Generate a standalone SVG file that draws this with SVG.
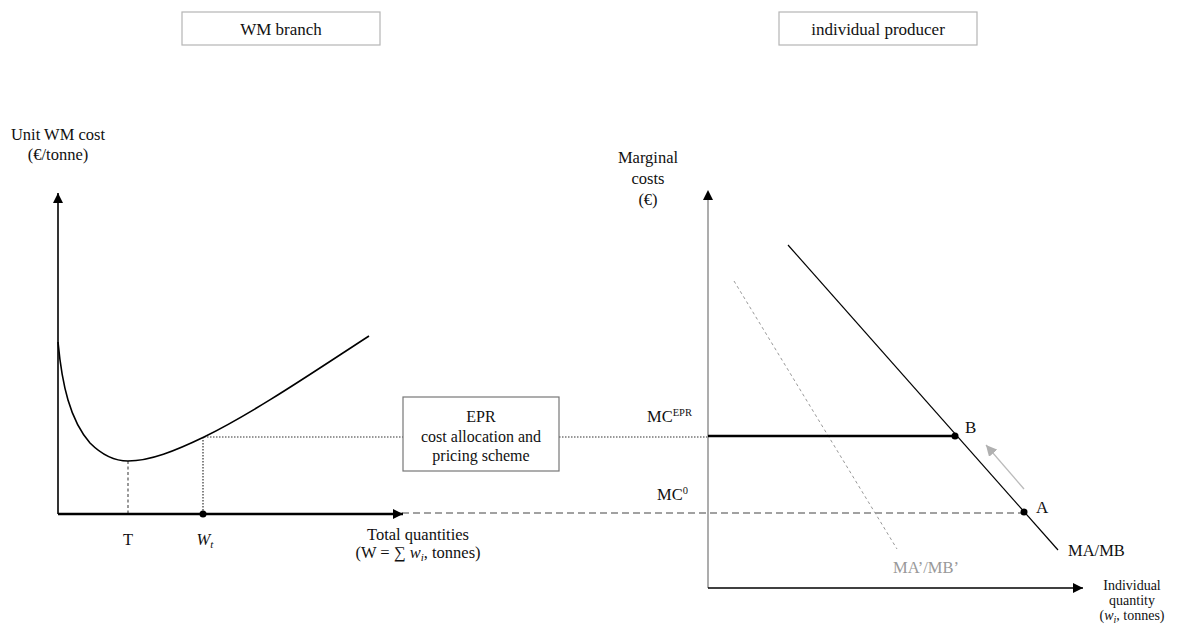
<svg xmlns="http://www.w3.org/2000/svg" width="1180" height="627" viewBox="0 0 1180 627" font-family="'Liberation Serif','Times New Roman',serif">
<defs>
<marker id="ah" viewBox="0 0 10 10" refX="10" refY="5" markerWidth="10" markerHeight="10" markerUnits="userSpaceOnUse" orient="auto"><path d="M0,0 L10,5 L0,10 z" fill="#000"/></marker>
<marker id="ahg" viewBox="0 0 10 10" refX="10" refY="5" markerWidth="11" markerHeight="11" markerUnits="userSpaceOnUse" orient="auto"><path d="M0,0 L10,5 L0,10 z" fill="#b0b0b0"/></marker>
<style>
text{font-family:'Liberation Serif','Times New Roman',serif;fill:#111}
.lbl{font-size:16.5px}
.box{fill:#fff;stroke:#b5b5b5;stroke-width:1.2}
.dot{stroke:#333;stroke-width:1.2;stroke-dasharray:1.5 1.5;fill:none}
.dash{stroke:#444;stroke-width:1.2;stroke-dasharray:7 4;fill:none}
</style>
</defs>
<g id="title-wm">
<rect class="box" x="182" y="12" width="198" height="33"/>
<text x="281" y="35" font-size="17" text-anchor="middle">WM branch</text>
</g>
<g id="title-producer">
<rect class="box" x="779" y="12" width="198" height="33"/>
<text x="878" y="35" font-size="17" text-anchor="middle">individual producer</text>
</g>
<g id="connectors">
<line class="dot" x1="204" y1="437" x2="403" y2="437"/>
<line class="dot" x1="559" y1="437" x2="708" y2="437"/>
<line class="dot" x1="203" y1="437" x2="203" y2="513"/>
<line x1="128" y1="461" x2="128" y2="513" stroke="#555" stroke-width="1.2" stroke-dasharray="3 2.5"/>
<line class="dash" x1="402" y1="513" x2="1024" y2="513"/>
</g>
<g id="left-chart">
<line x1="58" y1="514" x2="58" y2="193" stroke="#000" stroke-width="1.6" marker-end="url(#ah)"/>
<line x1="58" y1="514" x2="403" y2="514" stroke="#000" stroke-width="2.4" marker-end="url(#ah)"/>
<path d="M58,342 C62,385 70,420 90,443 C103,456 115,461 128,461 C150,461 175,451 204,437 C255,412 315,371 369,336" fill="none" stroke="#000" stroke-width="1.6"/>
<circle cx="203" cy="514" r="3.5" fill="#000"/>
<text class="lbl" x="58" y="140" text-anchor="middle">Unit WM cost</text>
<text class="lbl" x="58" y="160" text-anchor="middle">(€/tonne)</text>
<text class="lbl" x="128" y="545" text-anchor="middle">T</text>
<text class="lbl" x="205" y="545" text-anchor="middle"><tspan font-style="italic">W</tspan><tspan font-style="italic" font-size="11" dy="3">t</tspan></text>
<text class="lbl" x="418" y="540" text-anchor="middle">Total quantities</text>
<text class="lbl" x="418" y="558" text-anchor="middle">(W = ∑ <tspan font-style="italic">w</tspan><tspan font-style="italic" font-size="11" dy="3">i</tspan><tspan dy="-3">, tonnes)</tspan></text>
</g>
<g id="epr-box">
<rect x="403" y="397" width="156" height="74" fill="#fff" stroke="#777" stroke-width="1.2"/>
<text x="481" y="422" font-size="16" text-anchor="middle">EPR</text>
<text x="481" y="442" font-size="16" text-anchor="middle">cost allocation and</text>
<text x="481" y="461" font-size="16" text-anchor="middle">pricing scheme</text>
</g>
<g id="right-chart">
<line x1="708" y1="588" x2="708" y2="200" stroke="#999" stroke-width="1.6"/>
<path d="M703,200 L708,190 L713,200 z" fill="#000"/>
<line x1="708" y1="588" x2="1083" y2="588" stroke="#000" stroke-width="1.4" marker-end="url(#ah)"/>
<line x1="788" y1="245" x2="1058" y2="550" stroke="#000" stroke-width="1.2"/>
<line x1="734" y1="281" x2="897" y2="549" stroke="#999" stroke-width="1" stroke-dasharray="3 3"/>
<line x1="708" y1="436" x2="955" y2="436" stroke="#000" stroke-width="2.4"/>
<line x1="1024" y1="489" x2="986" y2="445" stroke="#bbb" stroke-width="1.3" marker-end="url(#ahg)"/>
<circle cx="955" cy="436" r="3.5" fill="#000"/>
<circle cx="1024" cy="512" r="3.5" fill="#000"/>
<text class="lbl" x="648" y="163" text-anchor="middle">Marginal</text>
<text class="lbl" x="648" y="184" text-anchor="middle">costs</text>
<text class="lbl" x="648" y="205" text-anchor="middle">(€)</text>
<text class="lbl" x="647" y="422">MC<tspan font-size="10.5" dy="-6">EPR</tspan></text>
<text class="lbl" x="657" y="500">MC<tspan font-size="10.5" dy="-6">0</tspan></text>
<text x="965" y="433" font-size="17">B</text>
<text x="1036" y="513" font-size="17">A</text>
<text class="lbl" x="1068" y="556">MA/MB</text>
<text class="lbl" x="893" y="573" style="fill:#999">MA’/MB’</text>
<text x="1132" y="590" font-size="14" text-anchor="middle">Individual</text>
<text x="1132" y="605" font-size="14" text-anchor="middle">quantity</text>
<text x="1132" y="620" font-size="14" text-anchor="middle">(<tspan font-style="italic">w</tspan><tspan font-style="italic" font-size="10" dy="3">i</tspan><tspan dy="-3">, tonnes)</tspan></text>
</g>
</svg>
